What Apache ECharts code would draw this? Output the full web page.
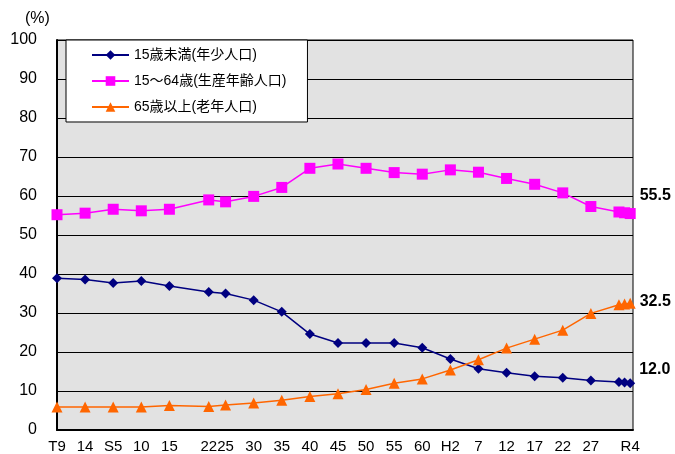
<!DOCTYPE html>
<html><head><meta charset="utf-8">
<script src="https://cdn.jsdelivr.net/npm/echarts@6/dist/echarts.min.js"></script>
<style>html,body{margin:0;padding:0;background:#fff}#c{width:675px;height:454px}</style>
</head><body><div id="c"></div>
<script>
var years = [1920,1925,1930,1935,1940,1947,1950,1955,1960,1965,1970,1975,1980,1985,1990,1995,2000,2005,2010,2015,2020,2021,2022];
var young = [38.9,38.6,37.7,38.2,36.9,35.4,35.0,33.3,30.3,24.6,22.3,22.3,22.3,21.1,18.2,15.7,14.7,13.8,13.4,12.7,12.3,12.2,12.0];
var working = [55.2,55.6,56.6,56.2,56.6,59.0,58.5,59.9,62.2,67.1,68.2,67.1,66.0,65.6,66.7,66.1,64.5,63.0,60.8,57.3,55.9,55.7,55.5];
var elderly = [5.9,5.9,5.9,5.9,6.3,6.0,6.4,6.9,7.6,8.6,9.3,10.4,12.0,13.1,15.4,18.0,21.0,23.3,25.6,29.9,32.1,32.3,32.5];
var tickYears = [1920,1925,1930,1935,1940,1947,1950,1955,1960,1965,1970,1975,1980,1985,1990,1995,2000,2005,2010,2015,2022];
var tickLabels = ['T9','14','S5','10','15','22','25','30','35','40','45','50','55','60','H2','7','12','17','22','27','R4'];
var seriesNames = ['15歳未満(年少人口)','15～64歳(生産年齢人口)','65歳以上(老年人口)'];
var endLabels = ['12.0','55.5','32.5'];

var FONT = '"Liberation Sans", Arial, "Noto Sans CJK JP", sans-serif';
var NARROW = '"Liberation Sans Narrow", "Liberation Sans", Arial, sans-serif';
function build(vals, endText, offY) {
  return vals.map(function (v, i) {
    var d = { value: [years[i], v] };
    if (i === vals.length - 1) {
      d.label = { show: true, position: 'right', distance: 4, offset: [0, offY],
        formatter: endText, color: '#000', fontSize: 16, fontWeight: 'bold', fontFamily: FONT };
    }
    return d;
  });
}
var chart = echarts.init(document.getElementById('c'));
chart.setOption({
  animation: false,
  backgroundColor: '#fff',
  grid: { left: 57, right: 42, top: 40, bottom: 23, show: true, backgroundColor: '#e2e2e2', borderColor: '#000', borderWidth: 1 },
  legend: {
    orient: 'vertical', left: 66, top: 40,
    backgroundColor: '#fff', borderColor: '#000', borderWidth: 1,
    padding: [8, 21, 8, 25], itemWidth: 37, itemHeight: 12, itemGap: 12,
    textStyle: { fontSize: 14, color: '#000', fontFamily: FONT },
    data: seriesNames
  },
  graphic: [{ type: 'text', left: 25, top: 11, style: { text: '(%)', fontSize: 16, fill: '#000', fontFamily: FONT } }],
  xAxis: {
    type: 'value', min: 1920, max: 2022.5,
    axisLine: { show: true, lineStyle: { color: '#000', width: 2 } },
    axisTick: { show: false },
    splitLine: { show: false },
    axisLabel: {
      customValues: tickYears, color: '#000', fontSize: 15, fontFamily: NARROW, margin: 9,
      formatter: function (v) { var i = tickYears.indexOf(v); return i >= 0 ? tickLabels[i] : ''; }
    }
  },
  yAxis: {
    type: 'value', min: 0, max: 100, interval: 10,
    axisLine: { show: true, lineStyle: { color: '#000', width: 2 } },
    axisTick: { show: false },
    splitLine: { show: true, lineStyle: { color: '#000', width: 1 } },
    axisLabel: { color: '#000', fontSize: 16, fontFamily: NARROW, margin: 20 }
  },
  series: [
    { name: seriesNames[0], type: 'line', data: build(young, endLabels[0], -14), symbol: 'diamond', symbolSize: 10,
      itemStyle: { color: '#000080' }, lineStyle: { color: '#000080', width: 1.5 } },
    { name: seriesNames[1], type: 'line', data: build(working, endLabels[1], -18), symbol: 'rect', symbolSize: 11,
      itemStyle: { color: '#ff00ff' }, lineStyle: { color: '#ff00ff', width: 1.5 } },
    { name: seriesNames[2], type: 'line', data: build(elderly, endLabels[2], -2), symbol: 'triangle', symbolSize: 11,
      itemStyle: { color: '#ff6600' }, lineStyle: { color: '#ff6600', width: 1.5 } }
  ]
});
</script></body></html>
